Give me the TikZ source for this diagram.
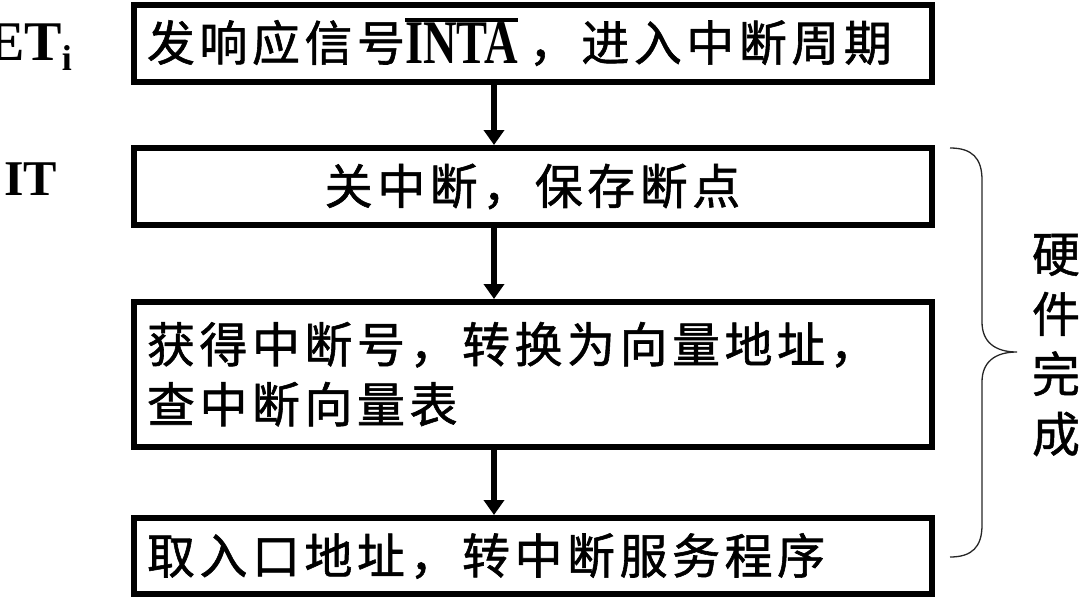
\documentclass[tikz,border=0pt]{standalone}
\usepackage{fontspec}
\setmainfont{Liberation Serif}
\newfontfamily\cjkfont[LetterSpace=9.4,FakeBold=1.2]{Noto Sans CJK SC}
\newfontfamily\cjkplain[FakeBold=1.0]{Noto Sans CJK SC}
\usetikzlibrary{arrows.meta}
\newcommand\myovl[1]{\setbox0=\hbox{#1}\rlap{\raise\dimexpr\ht0+1pt\relax\hbox{\vrule width\wd0 height 3.5pt depth 0pt}}\box0}
\newcommand\inta{\smash{\raisebox{-3pt}{\myovl{\scalebox{0.75}[1]{\rmfamily\bfseries\fontsize{62}{62}\selectfont INTA}}}}\hspace{11pt}}
\begin{document}
\begin{tikzpicture}[x=1pt,y=-1pt,
  stepbox/.style={draw=black, line width=6pt, minimum width=798pt, inner xsep=13.5pt, inner ysep=0pt,
    text width=771pt, font=\cjkfont\fontsize{48}{60}\selectfont},
  arr/.style={line width=5.5pt, -{Triangle[width=20pt,length=15pt]}},
  lbl/.style={inner sep=0pt, anchor=base west, font=\rmfamily\bfseries},
  brace/.style={line width=1.3pt, draw=black!85}]
\useasboundingbox (0,0) rectangle (1082,597);
\node[stepbox, align=left, minimum height=77pt] (b1) at (532.5,43) {发响应信号\inta，进入中断周期};
\node[stepbox, align=center, minimum height=77pt] (b2) at (532.5,186.5) {关中断，保存断点};
\node[stepbox, align=left, minimum height=144.5pt] (b3) at (532.5,374.25) {获得中断号，转换为向量地址，\\查中断向量表};
\node[stepbox, align=left, minimum height=76pt] (b4) at (532.5,556) {取入口地址，转中断服务程序};
\coordinate (ax) at (494,0);
\draw[arr] (b1.south -| ax) -- (b2.north -| ax);
\draw[arr] (b2.south -| ax) -- (b3.north -| ax);
\draw[arr] (b3.south -| ax) -- (b4.north -| ax);
\node[lbl, font=\rmfamily\bfseries\fontsize{56}{56}\selectfont] (et) at (-13,60) {ET\raisebox{-10pt}{\fontsize{36}{36}\selectfont i}};
\node[lbl, font=\rmfamily\bfseries\fontsize{50}{50}\selectfont] (it) at (4,195) {IT};
\draw[brace] (950,148) .. controls (972,148) and (982,158) .. (982,180) -- (982,322)
  .. controls (982,342) and (995,352) .. (1017,352)
  .. controls (995,352) and (982,362) .. (982,382) -- (982,525)
  .. controls (982,547) and (972,557) .. (950,557);
\node[inner sep=0pt, align=center, font=\cjkplain\fontsize{48}{60}\selectfont] (hw) at (1056,345) {硬\\件\\完\\成};
\end{tikzpicture}
\end{document}
